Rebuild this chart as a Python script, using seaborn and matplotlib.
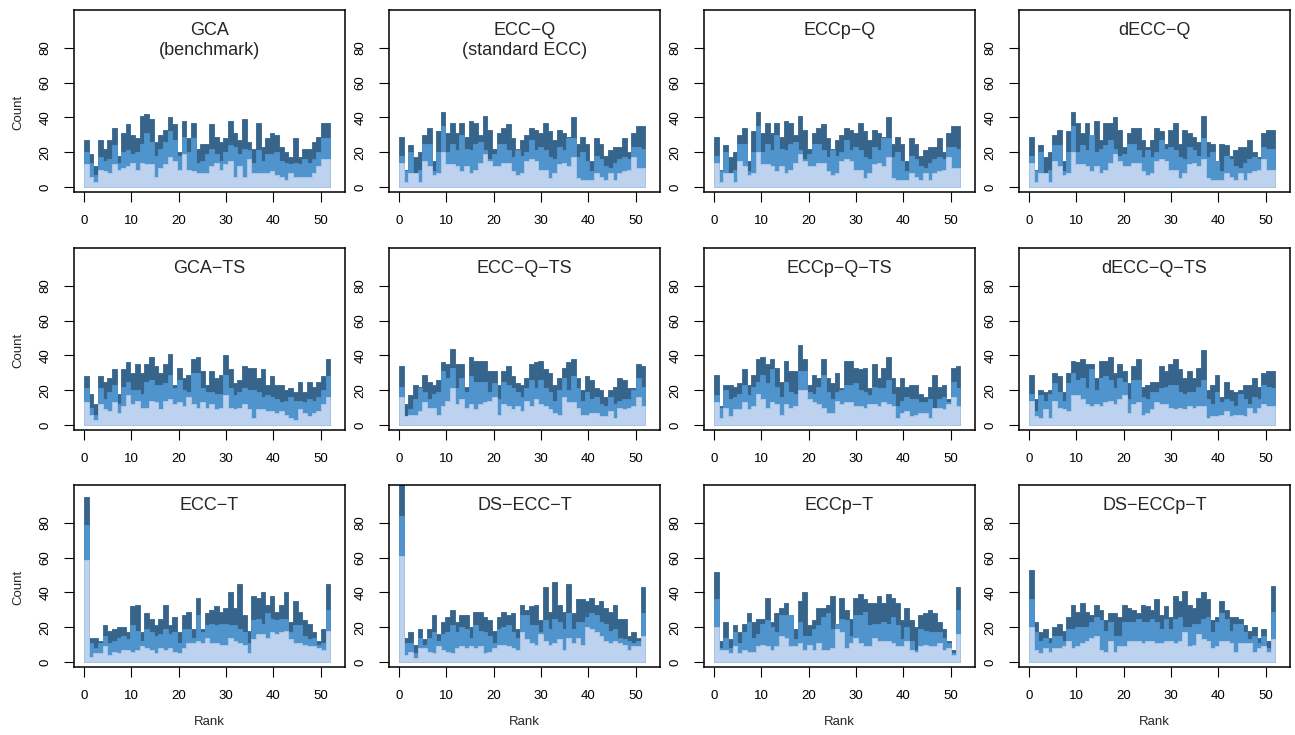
import numpy as np
import matplotlib
matplotlib.use("Agg")
import matplotlib.pyplot as plt
import seaborn as sns

ranks = np.arange(53)

# ---- data (counts per rank: total / middle cumulative / lower) ----
gca_dark = [27,19,12,27,22,27,34,18,31,36,30,28,41,42,39,26,30,33,40,36,20,38,28,37,22,25,25,36,29,26,28,38,31,27,39,26,22,37,23,28,31,30,23,20,17,28,17,22,22,26,29,37,37]
gca_mid = [20,14,7,17,15,16,24,14,20,21,19,20,25,31,26,18,22,26,32,27,18,29,20,28,14,15,19,22,19,15,20,24,23,19,22,21,14,21,15,19,19,20,15,14,13,14,13,16,14,16,20,28,28]
gca_light = [13,6,3,10,9,8,13,10,11,12,14,10,14,13,13,6,11,13,17,15,10,19,10,9,8,8,8,12,14,10,13,15,6,12,6,16,8,8,8,8,9,7,6,4,8,6,6,6,6,8,12,16,16]

eccq_dark = [29,10,24,17,20,30,34,15,32,43,31,37,31,37,29,38,37,30,41,33,22,31,34,36,28,22,27,30,34,33,31,37,32,27,33,31,29,40,25,29,25,15,28,25,18,21,23,23,28,20,31,35,35]
eccq_mid = [18,9,20,8,10,25,25,9,20,35,20,25,21,30,22,21,25,26,21,16,19,25,25,21,17,21,18,20,27,21,23,21,17,16,23,21,28,28,17,20,15,9,18,16,12,11,14,16,17,16,23,23,22]
eccq_light = [14,3,8,8,3,15,12,7,8,20,13,13,12,9,12,8,10,14,19,15,12,12,14,14,9,7,8,15,16,15,10,10,5,8,13,14,12,17,5,4,4,4,8,6,4,8,4,8,9,10,17,11,11]

eccpq_dark = [29,10,24,17,20,30,34,15,32,43,31,37,31,37,29,38,37,30,41,33,22,31,34,36,28,22,27,30,34,33,31,37,32,27,33,31,29,40,25,29,25,15,28,25,18,21,23,23,28,20,31,35,35]
eccpq_mid = [18,9,20,8,10,25,25,9,20,35,20,25,21,30,22,21,25,26,21,16,19,25,25,21,17,21,18,20,27,21,23,21,17,16,23,21,28,28,17,20,15,9,18,16,12,11,14,16,17,16,23,23,22]
eccpq_light = [14,3,8,8,3,15,12,7,8,20,13,13,12,9,12,8,10,14,19,15,12,12,14,14,9,7,8,15,16,15,10,10,5,8,13,14,12,17,5,4,4,4,8,6,4,8,4,8,9,10,17,11,11]

decq_dark = [29,10,24,17,20,30,33,15,32,43,37,31,37,29,38,27,37,37,40,33,23,31,34,34,27,23,27,34,32,25,33,37,25,33,31,29,26,41,26,25,15,25,24,18,21,23,23,27,20,17,31,33,33]
decq_mid = [18,9,20,8,10,24,24,9,20,35,20,24,21,30,20,22,24,27,22,18,19,25,25,21,17,21,17,20,27,22,23,21,17,16,23,21,18,28,17,20,15,9,18,16,12,11,14,16,17,16,23,22,22]
decq_light = [14,3,8,8,3,15,12,7,8,20,13,13,12,9,12,8,10,14,19,15,12,12,14,14,9,7,8,15,16,15,10,10,5,8,13,14,12,16,5,4,4,4,8,6,4,8,4,8,9,10,16,10,10]

gcats_dark = [28,18,12,28,25,27,32,18,32,36,30,35,30,35,39,34,30,35,41,23,33,27,29,38,39,31,23,31,27,29,40,32,24,26,34,33,33,27,32,23,28,23,23,20,21,19,25,19,25,22,25,28,38]
gcats_mid = [21,10,6,21,15,19,23,12,22,25,20,20,18,25,26,23,23,24,29,21,26,20,19,30,30,21,19,19,18,18,29,21,17,19,21,20,20,19,16,17,16,15,13,14,16,14,14,13,15,14,16,20,28]
gcats_light = [13,6,3,12,9,8,13,7,11,17,12,14,10,10,14,13,9,14,15,12,13,11,16,12,10,13,10,12,9,10,17,10,9,10,12,9,4,9,9,8,8,7,8,6,4,3,9,7,5,7,8,12,16]

eccqts_dark = [34,12,17,23,22,29,25,23,26,36,35,44,35,35,22,39,37,37,37,31,31,23,31,34,28,24,23,27,35,36,37,32,30,23,27,33,36,38,27,20,28,26,21,20,16,20,22,27,26,21,21,35,34]
eccqts_mid = [22,5,9,15,21,19,15,18,19,31,27,33,21,27,19,28,25,25,25,19,24,15,25,23,21,19,16,21,26,21,26,21,19,14,20,27,20,28,21,14,19,15,16,12,11,16,12,14,15,15,20,27,22]
eccqts_light = [16,5,6,6,8,13,10,10,6,11,14,21,12,15,10,12,9,12,13,14,16,6,12,11,9,11,8,14,11,15,12,11,9,7,6,16,13,13,10,6,6,7,7,5,5,8,4,10,9,10,11,16,11]

eccpqts_dark = [29,11,23,23,22,24,32,23,29,38,39,35,38,33,25,37,31,31,46,38,23,29,27,38,27,24,30,21,37,37,33,32,33,21,35,27,33,39,27,22,27,22,23,23,18,16,22,29,22,23,15,33,34]
eccpqts_mid = [17,10,20,15,16,18,23,17,22,25,29,24,32,22,16,25,19,18,31,31,19,18,22,29,19,15,19,20,23,23,24,20,19,17,22,21,21,26,18,11,14,16,15,15,13,13,15,10,15,16,13,25,21]
eccpqts_light = [13,4,10,5,9,9,13,9,11,18,15,10,13,12,6,12,10,11,20,20,15,13,12,10,7,7,14,12,13,13,11,11,10,12,12,11,13,12,11,4,7,8,5,6,7,7,4,10,10,9,12,16,11]

decqts_dark = [29,15,20,19,20,30,28,19,30,37,36,38,35,35,27,37,37,39,30,35,31,24,34,38,22,23,25,25,34,31,35,38,32,27,31,27,33,43,20,23,29,16,25,20,19,20,23,23,27,22,30,31,31]
decqts_mid = [18,8,17,14,18,24,19,14,24,30,26,27,21,32,20,27,28,26,21,27,25,15,26,26,16,15,19,19,21,22,23,23,19,18,19,19,22,26,15,12,19,13,15,14,11,18,15,12,16,15,23,22,21]
decqts_light = [14,5,4,9,4,14,10,9,8,17,17,15,12,11,12,11,13,14,12,15,17,7,12,13,6,7,9,13,12,12,10,9,10,9,11,10,11,11,4,5,5,6,8,5,6,6,5,10,7,10,12,11,11]

ecct_dark = [95,14,14,12,21,18,19,20,20,17,32,33,17,28,25,21,25,33,21,26,17,27,29,19,37,19,28,30,32,29,31,40,31,45,27,18,38,37,40,33,38,29,33,40,23,35,29,24,22,17,12,19,45]
ecct_mid = [79,11,8,11,15,11,12,14,15,13,21,18,12,19,17,15,16,19,16,17,11,19,19,14,27,17,21,22,21,22,22,21,21,19,17,11,24,25,22,28,25,24,25,25,17,21,21,15,13,14,10,11,30]
ecct_light = [59,3,5,5,9,4,6,5,7,7,6,7,9,8,7,5,8,7,8,6,5,8,11,11,12,11,14,11,11,10,10,14,12,11,10,5,13,16,16,14,17,16,17,18,13,11,11,10,9,9,8,7,18]

dsecct_dark = [105,14,17,10,19,13,19,27,16,23,26,30,23,27,27,20,29,29,26,24,18,26,29,27,28,19,33,30,32,33,24,43,29,46,33,29,45,28,36,36,35,37,33,35,31,29,33,25,25,15,17,14,43]
dsecct_mid = [84,11,11,5,14,10,14,17,12,16,17,21,17,20,19,14,21,18,17,15,11,19,20,21,17,14,27,27,21,21,17,24,19,25,23,19,28,19,23,23,26,28,27,23,22,18,19,14,13,12,11,12,28]
dsecct_light = [61,4,6,2,8,8,6,5,9,7,6,5,8,9,8,9,8,9,5,6,8,10,10,9,8,7,17,13,11,10,16,12,10,11,13,7,14,11,14,10,20,19,17,15,12,11,12,11,10,7,9,9,15]

eccpt_dark = [52,12,23,13,21,17,22,28,23,25,25,37,23,28,31,34,27,19,35,40,21,24,31,31,33,38,22,37,30,25,37,39,36,34,34,38,34,39,37,34,24,31,24,20,27,28,30,28,23,19,12,7,43]
eccpt_mid = [36,8,14,8,17,11,17,23,14,16,22,24,20,17,27,27,27,13,23,15,15,19,21,26,28,19,22,25,24,15,27,27,29,21,22,22,23,22,26,21,13,20,12,7,19,18,17,17,17,14,11,5,30]
eccpt_light = [20,7,7,5,9,5,7,6,6,9,10,9,7,9,15,14,9,9,11,7,10,7,11,7,7,8,19,17,8,11,14,11,9,9,14,12,12,12,11,9,9,12,7,6,9,10,9,9,11,7,8,4,16]

dseccpt_dark = [53,23,17,19,14,20,22,18,26,33,29,34,29,27,33,30,24,28,28,26,33,31,30,28,33,32,30,36,27,32,26,38,35,41,33,31,37,40,36,24,26,35,30,26,26,25,21,18,20,14,19,12,44]
dseccpt_mid = [36,17,12,14,11,15,15,12,19,19,20,20,20,23,26,24,18,23,15,15,23,23,23,25,23,23,25,23,19,25,19,25,26,20,20,22,22,25,26,17,23,28,25,18,22,22,17,13,15,11,15,8,29]
dseccpt_light = [20,7,5,8,6,8,8,9,12,8,9,11,12,14,15,7,6,12,6,9,9,12,12,12,11,12,12,11,11,12,12,11,12,17,9,10,16,13,12,8,9,12,12,11,6,11,11,11,6,8,9,6,13]

titles = ["GCA\n(benchmark)", "ECC\u2212Q\n(standard ECC)", "ECCp\u2212Q", "dECC\u2212Q",
          "GCA\u2212TS", "ECC\u2212Q\u2212TS", "ECCp\u2212Q\u2212TS", "dECC\u2212Q\u2212TS",
          "ECC\u2212T", "DS\u2212ECC\u2212T", "ECCp\u2212T", "DS\u2212ECCp\u2212T"]
darks = [gca_dark, eccq_dark, eccpq_dark, decq_dark, gcats_dark, eccqts_dark, eccpqts_dark,
         decqts_dark, ecct_dark, dsecct_dark, eccpt_dark, dseccpt_dark]
mids = [gca_mid, eccq_mid, eccpq_mid, decq_mid, gcats_mid, eccqts_mid, eccpqts_mid,
        decqts_mid, ecct_mid, dsecct_mid, eccpt_mid, dseccpt_mid]
lights = [gca_light, eccq_light, eccpq_light, decq_light, gcats_light, eccqts_light, eccpqts_light,
          decqts_light, ecct_light, dsecct_light, eccpt_light, dseccpt_light]

x_ticks = [0, 10, 20, 30, 40, 50]
y_ticks = [0, 20, 40, 60, 80]

C_DARK = "#36648B"
C_MID = "#4F94CD"
C_LIGHT = "#BCD2EE"

sns.set_style("white")
plt.rcParams['font.family'] = ['Liberation Sans', 'DejaVu Sans']

W, H = 1295, 735
fig = plt.figure(figsize=(W / 100, H / 100), dpi=100)
col_x = [74, 389, 704, 1019]
row_y = [10, 248, 485]
aw, ah = 271, 182

for k in range(12):
    r, c = divmod(k, 4)
    ax = fig.add_axes([col_x[c] / W, 1 - (row_y[r] + ah) / H, aw / W, ah / H])
    for vals, col, ec in [(darks[k], C_DARK, C_DARK), (mids[k], C_MID, C_MID),
                          (lights[k], C_LIGHT, "#B0C8E8")]:
        sns.histplot(x=ranks, weights=np.asarray(vals, dtype=float), bins=53,
                     binrange=(0, 52), element="step", fill=True,
                     color=col, alpha=1, edgecolor=ec, linewidth=0.6, ax=ax)
    ax.set_xlim(-2.12, 55.12)
    ax.set_ylim(-2.9, 101.9)
    ax.set_xticks(x_ticks)
    ax.set_yticks(y_ticks)
    ax.set_yticklabels([str(v) for v in y_ticks], rotation=90, va="center")
    ax.tick_params(axis="both", direction="out", length=7, width=0.8, labelsize=9.5,
                   colors="black", bottom=True, left=True)
    ax.tick_params(axis="x", pad=9.5)
    ax.tick_params(axis="y", pad=9)
    for s in ax.spines.values():
        s.set_color("black")
        s.set_linewidth(1.1)
    ax.set_xlabel("")
    ax.set_ylabel("")
    ax.text(0.5, 0.935, titles[k], transform=ax.transAxes, ha="center", va="top",
            fontsize=13, linespacing=1.25)
    if c == 0:
        fig.text(18 / W, 1 - (row_y[r] + 102) / H, "Count", rotation=90,
                 ha="center", va="center", fontsize=9.5)
    if r == 2:
        fig.text((col_x[c] + aw / 2) / W, 1 - 722 / H, "Rank", ha="center", va="center",
                 fontsize=9.5)

fig.savefig("out.png", dpi=100)
